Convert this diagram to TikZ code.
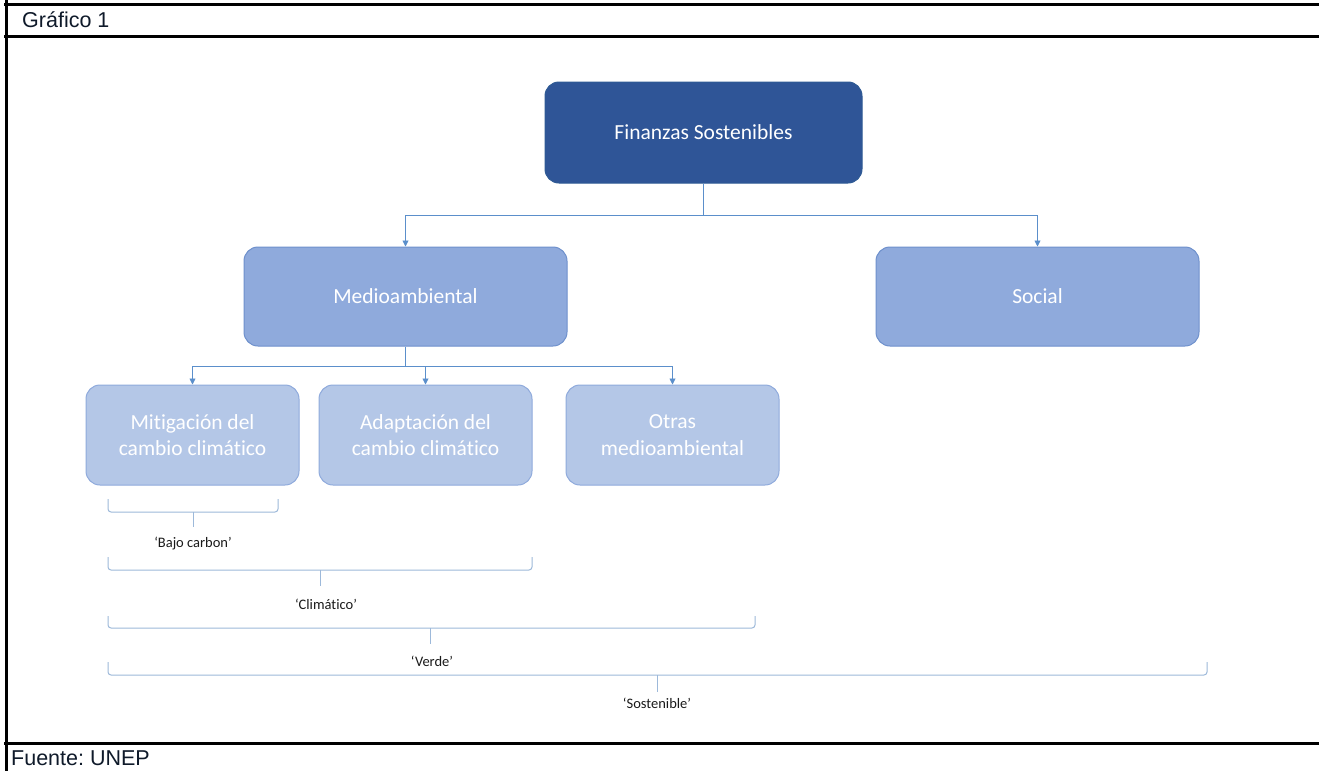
\documentclass[tikz,border=0pt]{standalone}
\usepackage{fontspec}
\setmainfont{Carlito}[Ligatures=NoCommon]
\newfontfamily\arialfont{Liberation Sans}
\usetikzlibrary{arrows.meta}
\frenchspacing
\definecolor{darkbox}{HTML}{2F5597}
\definecolor{darkedge}{HTML}{2E5A94}
\definecolor{midbox}{HTML}{8FAADC}
\definecolor{midedge}{HTML}{6E90CC}
\definecolor{lightbox}{HTML}{B4C7E7}
\definecolor{lightedge}{HTML}{8FAADC}
\definecolor{link}{HTML}{5B8FCB}
\definecolor{bracecol}{HTML}{9DB9DA}
\definecolor{labeltext}{HTML}{1A1A1A}
\definecolor{frametext}{HTML}{0F1A2A}
\begin{document}
\begin{tikzpicture}[x=1pt,y=-1pt,
  box/.style={rounded corners=14pt, line width=1pt, align=center, text=white,
    font=\fontsize{21.5}{26.5}\selectfont, inner sep=0pt},
  topbox/.style={box, fill=darkbox, draw=darkedge, minimum width=317pt, minimum height=101pt},
  midlevel/.style={box, fill=midbox, draw=midedge, minimum width=323pt, minimum height=99pt},
  lowlevel/.style={box, fill=lightbox, draw=lightedge, minimum width=213pt, minimum height=100pt},
  link/.style={draw=link, line width=0.9pt},
  arr/.style={link, -{Triangle[length=6pt,width=6pt]}},
  brace/.style={draw=bracecol, line width=1pt, rounded corners=3pt},
  bracelabel/.style={font=\fontsize{14.5}{17}\selectfont, text=labeltext, inner sep=0pt},
  frame/.style={draw=black, line width=3pt},
  frametxt/.style={font=\arialfont\fontsize{21.5}{25}\selectfont, text=frametext, anchor=west, inner sep=0pt}]
\useasboundingbox (0,0) rectangle (1319,771);
\fill[white] (0,0) rectangle (1319,771);

% outer table frame
\draw[frame] (6,0) -- (6,771);
\draw[frame] (4,4) -- (1319,4);
\draw[frame] (4,36) -- (1319,36);
\draw[frame] (4,743) -- (1319,743);
\node[frametxt] (title) at (22,20) {Gráfico 1};
\node[frametxt] (source) at (11,758) {Fuente: UNEP};

% boxes
\node[topbox] (fs) at (703.5,132.5) {Finanzas Sostenibles};
\node[midlevel] (med) at (405.5,296.5) {Medioambiental};
\node[midlevel] (soc) at (1037.5,296.5) {Social};
\node[lowlevel] (mit) at (192.5,435) {Mitigación del\\cambio climático};
\node[lowlevel] (ada) at (425.5,435) {Adaptación del\\cambio climático};
\node[lowlevel] (otr) at (672.5,435) {Otras\\medioambiental};

% first level links
\coordinate (j1) at (703.5,215);
\draw[link] (fs.south) -- (j1);
\draw[arr] (j1) -| (med.north);
\draw[arr] (j1) -| (soc.north);

% second level links
\coordinate (j2) at (405.5,366);
\draw[link] (med.south) -- (j2);
\draw[arr] (j2) -| (mit.north);
\draw[arr] (j2) -| (ada.north);
\draw[arr] (j2) -| (otr.north);

% grouping braces
\coordinate (b1l) at (108,499); \coordinate (b1r) at (278,499); \coordinate (b1m) at (193,527);
\draw[brace] (b1l) |- (193,512) -| (b1r);
\draw[brace] (193,512) -- (b1m);
\node[bracelabel] (lb1) at (193,544) {‘Bajo carbon’};

\coordinate (b2l) at (108,557); \coordinate (b2r) at (532,557); \coordinate (b2m) at (320,586);
\draw[brace] (b2l) |- (320,570) -| (b2r);
\draw[brace] (320,570) -- (b2m);
\node[bracelabel] (lb2) at (326,604) {‘Climático’};

\coordinate (b3l) at (108,616); \coordinate (b3r) at (755,616); \coordinate (b3m) at (430,644);
\draw[brace] (b3l) |- (430,628) -| (b3r);
\draw[brace] (430,628) -- (b3m);
\node[bracelabel] (lb3) at (432,661) {‘Verde’};

\coordinate (b4l) at (108,662); \coordinate (b4r) at (1207,662); \coordinate (b4m) at (657,692);
\draw[brace] (b4l) |- (657,675) -| (b4r);
\draw[brace] (657,675) -- (b4m);
\node[bracelabel] (lb4) at (657,703) {‘Sostenible’};
\end{tikzpicture}
\end{document}
